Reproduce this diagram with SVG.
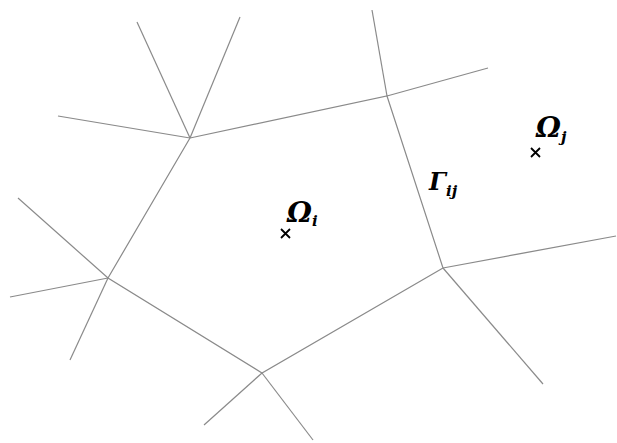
<svg xmlns="http://www.w3.org/2000/svg" width="617" height="443" viewBox="0 0 617 443">
<style>
.e{stroke:#8a8a8a;stroke-width:1.2;fill:none}
.x{stroke:#000;stroke-width:1.8}
.t{font-family:"DejaVu Serif","Liberation Serif",serif;font-style:italic;font-weight:bold;fill:#000}
</style>
<rect width="617" height="443" fill="#fff"/>
<g id="connectors">
<polygon class="e" points="190,138 387,96 443,268 262,373 108,278"/>
<line class="e" x1="190" y1="138" x2="137" y2="22"/>
<line class="e" x1="190" y1="138" x2="240" y2="17"/>
<line class="e" x1="190" y1="138" x2="58" y2="116"/>
<line class="e" x1="387" y1="96" x2="372" y2="10"/>
<line class="e" x1="387" y1="96" x2="488" y2="68"/>
<line class="e" x1="443" y1="268" x2="616" y2="236"/>
<line class="e" x1="443" y1="268" x2="543" y2="384"/>
<line class="e" x1="262" y1="373" x2="204" y2="425"/>
<line class="e" x1="262" y1="373" x2="313" y2="440"/>
<line class="e" x1="108" y1="278" x2="18" y2="198"/>
<line class="e" x1="108" y1="278" x2="10" y2="297"/>
<line class="e" x1="108" y1="278" x2="70" y2="360"/>
</g>
<g id="omega_i">
<path class="x" d="M281,229 l9,9 M290,229 l-9,9"/>
<text class="t" x="287" y="222" font-size="28">Ω<tspan font-size="15" dy="4">i</tspan></text>
</g>
<g id="omega_j">
<path class="x" d="M531,148 l9,9 M540,148 l-9,9"/>
<text class="t" x="536" y="137" font-size="28">Ω<tspan font-size="15" dy="5">j</tspan></text>
</g>
<g id="gamma_ij">
<text class="t" x="429" y="190" font-size="24">Γ<tspan font-size="15" dy="6">ij</tspan></text>
</g>
</svg>
